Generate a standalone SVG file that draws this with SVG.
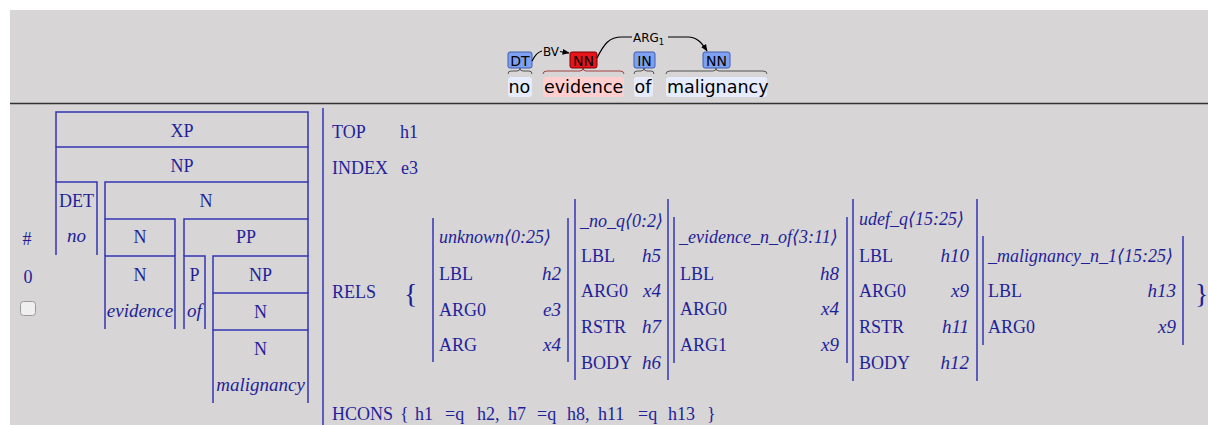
<svg xmlns="http://www.w3.org/2000/svg" width="1208" height="425" viewBox="0 0 1208 425">
<style>
.t{font-family:"Liberation Serif","DejaVu Serif",serif;font-size:18px;fill:#1f1f99}
.i{font-style:italic;font-size:19px}
.ti{font-style:italic;font-size:18px}
.m{text-anchor:middle}
.e{text-anchor:end}
.big{font-size:28px}
.ln{fill:none;stroke:#3434b4;stroke-width:1.5}
.tag{font-family:"DejaVu Sans",sans-serif;font-size:14px;fill:#000;text-anchor:middle}
.lab{font-family:"DejaVu Sans",sans-serif;font-size:12px;fill:#000}
.sub{font-size:8.5px}
.w{font-family:"DejaVu Sans",sans-serif;font-size:17.5px;fill:#000}
.blue{fill:#7fa0f0;stroke:#3e5db0;stroke-width:1}
.red{fill:#e8141c;stroke:#7a0000;stroke-width:1}
.wbg{fill:#e6ecfb}
.arc{fill:none;stroke:#000;stroke-width:1.2}
.br{fill:none;stroke:#555;stroke-width:1}
</style>
<defs>
<marker id="ah" viewBox="0 0 10 10" refX="9" refY="5" markerWidth="6" markerHeight="6" orient="auto">
<path d="M0,1 L10,5 L0,9 z" fill="#000"/>
</marker>
</defs>
<rect x="0" y="0" width="1208" height="425" fill="#fff"/>
<rect x="10" y="10" width="1198" height="415" fill="#d7d5d6"/>
<line x1="10" y1="103.5" x2="1208" y2="103.5" stroke="#333" stroke-width="1.6"/>

<!-- dependency view -->
<g id="word-no">
<rect class="wbg" x="508" y="77" width="24" height="20" rx="3"/>
<text class="w" x="508.5" y="93">no</text>
<path class="br" d="M508,74 Q508,71 511,71 H517 Q520,71 520,68 Q520,71 523,71 H529 Q532,71 532,74"/>
<rect class="blue" x="508" y="52" width="24" height="16" rx="2"/>
<text class="tag" x="520" y="65.5">DT</text>
</g>
<g id="word-evidence">
<rect x="543" y="77" width="81" height="20" rx="3" fill="#ffcfcf"/>
<text class="w" x="544" y="93">evidence</text>
<path d="M543,74 Q543,71 547,71 H580 Q583,71 583,68 Q583,71 586,71 H620 Q624,71 624,74" fill="none" stroke="#a04040" stroke-width="1"/>
<rect class="red" x="570" y="52" width="27" height="16" rx="2"/>
<text class="tag" x="583.5" y="65.5">NN</text>
</g>
<g id="word-of">
<rect class="wbg" x="634" y="77" width="19" height="20" rx="3"/>
<text class="w" x="634.5" y="93">of</text>
<path class="br" d="M634,74 Q634,71 637,71 H641 Q644,71 644,68 Q644,71 647,71 H651 Q654,71 654,74"/>
<rect class="blue" x="634" y="52" width="21" height="16" rx="2"/>
<text class="tag" x="644.5" y="65.5">IN</text>
</g>
<g id="word-malignancy">
<rect class="wbg" x="666" y="77" width="101" height="20" rx="3"/>
<text class="w" x="667" y="93">malignancy</text>
<path class="br" d="M666,74 Q666,71 670,71 H713 Q716,71 716,68 Q716,71 719,71 H763 Q767,71 767,74"/>
<rect class="blue" x="703" y="52" width="27" height="16" rx="2"/>
<text class="tag" x="716.5" y="65.5">NN</text>
</g>
<g id="connectors">
<path class="arc" d="M532,61 C535,55 538,52 542,51"/>
<text class="lab" x="543" y="56">BV</text>
<path class="arc" d="M560,51.5 L569,53" marker-end="url(#ah)"/>
<path class="arc" d="M597,58 C604,44 609,37 622,37 H632"/>
<text class="lab" x="633" y="42">ARG<tspan class="sub" dy="3">1</tspan></text>
<path class="arc" d="M668,37 H688 C697,37 702,43 707,51" marker-end="url(#ah)"/>
</g>

<!-- result index -->
<g id="index">
<text class="t m" x="27" y="245">#</text>
<text class="t m" x="28" y="283">0</text>
<rect x="20.5" y="301.5" width="15" height="14" rx="3" fill="#efefef" stroke="#9a9a9a"/>
</g>

<!-- syntax tree -->
<g id="tree-XP"><path class="ln" d="M56,147 V112 H308 V147"/><text class="t m" x="182" y="137">XP</text></g>
<g id="tree-NP"><path class="ln" d="M56,182 V147 H308 V182"/><text class="t m" x="182" y="172">NP</text></g>
<g id="tree-DET"><path class="ln" d="M56,255 V182 H97 V255"/><text class="t m" x="76.5" y="207">DET</text><text class="t i m" x="76.5" y="242">no</text></g>
<g id="tree-N1"><path class="ln" d="M105,219 V182 H308 V219"/><text class="t m" x="206" y="207">N</text></g>
<g id="tree-N2"><path class="ln" d="M105,256 V219 H175 V256"/><text class="t m" x="140" y="243">N</text></g>
<g id="tree-PP"><path class="ln" d="M184,256 V219 H308 V256"/><text class="t m" x="246" y="243">PP</text></g>
<g id="tree-N3"><path class="ln" d="M105,329 V256 H175 V329"/><text class="t m" x="140" y="281">N</text><text class="t i m" x="140" y="317">evidence</text></g>
<g id="tree-P"><path class="ln" d="M184,329 V256 H205 V329"/><text class="t m" x="194.5" y="281">P</text><text class="t i m" x="194.5" y="317">of</text></g>
<g id="tree-NP2"><path class="ln" d="M213,293 V256 H308 V293"/><text class="t m" x="260.5" y="281">NP</text></g>
<g id="tree-N4"><path class="ln" d="M213,330 V293 H308 V330"/><text class="t m" x="260.5" y="318">N</text></g>
<g id="tree-N5"><path class="ln" d="M213,403 V330 H308 V403"/><text class="t m" x="260.5" y="355">N</text><text class="t i m" x="260.5" y="391">malignancy</text></g>

<!-- MRS -->
<line class="ln" x1="323" y1="108" x2="323" y2="425"/>
<g id="mrs-top">
<text class="t" x="332" y="138">TOP</text><text class="t" x="400" y="138">h1</text>
<text class="t" x="332" y="174">INDEX</text><text class="t" x="401" y="174">e3</text>
<text class="t" x="332" y="298">RELS</text>
<text class="t big" x="404" y="303">{</text>
<text class="t big" x="1195" y="303">}</text>
</g>
<g id="ep-unknown">
<line class="ln" x1="433" y1="218" x2="433" y2="362"/><line class="ln" x1="568" y1="218" x2="568" y2="362"/>
<text class="t ti" x="439" y="243">unknown⟨0:25⟩</text>
<text class="t" x="439" y="280">LBL</text><text class="t i e" x="561" y="280">h2</text>
<text class="t" x="439" y="316">ARG0</text><text class="t i e" x="561" y="316">e3</text>
<text class="t" x="439" y="351">ARG</text><text class="t i e" x="561" y="351">x4</text>
</g>
<g id="ep-no_q">
<line class="ln" x1="575" y1="199" x2="575" y2="380"/><line class="ln" x1="668" y1="199" x2="668" y2="380"/>
<text class="t ti" x="580" y="227">_no_q⟨0:2⟩</text>
<text class="t" x="581" y="262">LBL</text><text class="t i e" x="661" y="262">h5</text>
<text class="t" x="581" y="297">ARG0</text><text class="t i e" x="661" y="297">x4</text>
<text class="t" x="581" y="333">RSTR</text><text class="t i e" x="661" y="333">h7</text>
<text class="t" x="581" y="369">BODY</text><text class="t i e" x="661" y="369">h6</text>
</g>
<g id="ep-evidence">
<line class="ln" x1="674" y1="217" x2="674" y2="363"/><line class="ln" x1="847" y1="217" x2="847" y2="363"/>
<text class="t ti" x="679" y="243">_evidence_n_of⟨3:11⟩</text>
<text class="t" x="680" y="280">LBL</text><text class="t i e" x="839" y="280">h8</text>
<text class="t" x="680" y="315">ARG0</text><text class="t i e" x="839" y="315">x4</text>
<text class="t" x="680" y="351">ARG1</text><text class="t i e" x="839" y="351">x9</text>
</g>
<g id="ep-udef_q">
<line class="ln" x1="853" y1="199" x2="853" y2="381"/><line class="ln" x1="977" y1="199" x2="977" y2="381"/>
<text class="t ti" x="859" y="225">udef_q⟨15:25⟩</text>
<text class="t" x="859" y="262">LBL</text><text class="t i e" x="969" y="262">h10</text>
<text class="t" x="859" y="297">ARG0</text><text class="t i e" x="969" y="297">x9</text>
<text class="t" x="859" y="333">RSTR</text><text class="t i e" x="969" y="333">h11</text>
<text class="t" x="859" y="369">BODY</text><text class="t i e" x="969" y="369">h12</text>
</g>
<g id="ep-malignancy">
<line class="ln" x1="983" y1="236" x2="983" y2="345"/><line class="ln" x1="1183" y1="236" x2="1183" y2="345"/>
<text class="t ti" x="988" y="262">_malignancy_n_1⟨15:25⟩</text>
<text class="t" x="988" y="297">LBL</text><text class="t i e" x="1176" y="297">h13</text>
<text class="t" x="988" y="333">ARG0</text><text class="t i e" x="1176" y="333">x9</text>
</g>
<g id="hcons">
<text class="t" y="420"><tspan x="332">HCONS</tspan><tspan x="400">{</tspan><tspan x="415">h1</tspan><tspan x="445">=q</tspan><tspan x="477">h2,</tspan><tspan x="508">h7</tspan><tspan x="537">=q</tspan><tspan x="567">h8,</tspan><tspan x="598">h11</tspan><tspan x="638">=q</tspan><tspan x="668">h13</tspan><tspan x="707">}</tspan></text>
</g>
</svg>
